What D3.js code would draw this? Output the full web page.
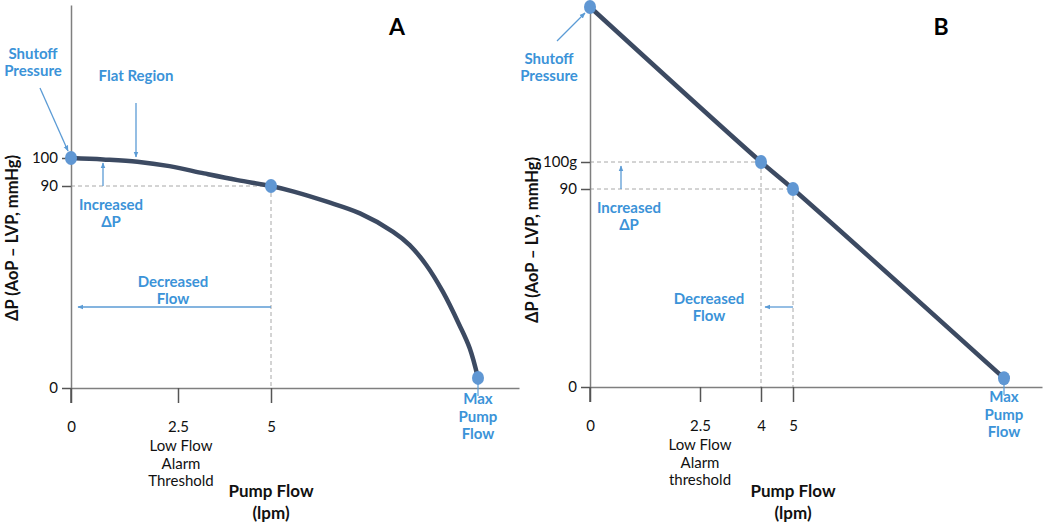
<!DOCTYPE html>
<html>
<head>
<meta charset="utf-8">
<script src="https://cdn.jsdelivr.net/npm/d3@7"></script>
<style>
html,body{margin:0;padding:0;background:#fff;}
svg text{font-family:Lato,"Open Sans",sans-serif;}
</style>
</head>
<body>
<svg id="chart" width="1050" height="524"></svg>
<script>
// ---------- data ----------
const curveFlowA = [0, 0.75, 1.55, 2.3, 3.2, 4.1, 5, 5.55, 6.35, 7.15, 7.95, 8.35, 8.75, 9.15, 9.55, 9.8, 10];
const curveDpA   = [100, 99.5, 98.7, 97.1, 94.5, 92.1, 90, 87.5, 83.0, 77.8, 69.6, 63.7, 54.8, 42.9, 28.1, 17.7, 4.5];
const pointFlowA = [0, 5, 10];
const pointDpA   = [100, 90, 4.5];

const lineFlowB  = [0, 4, 5, 10];
const lineDpB    = [170, 100, 90, 4];
const pointFlowB = [0, 4, 5, 10];
const pointDpB   = [170, 100, 90, 4];

const xTicksA = [0, 2.5, 5];
const xTickLabelsA = ["0", "2.5", "5"];
const xTicksB = [0, 2.5, 4, 5];
const xTickLabelsB = ["0", "2.5", "4", "5"];
const yTicks = [0, 90, 100];
const yTickLabelsA = ["0", "90", "100"];
const yTickLabelsB = ["0", "90", "100g"];

// ---------- style ----------
const curveColor = "#3c4a62";
const dotColor = "#6097d3";
const annoColor = "#3b93d8";
const arrowColor = "#5b9bd5";
const axisColor = "#7f7f7f";
const dashColor = "#a8a8a8";

const svg = d3.select("#chart");
const defs = svg.append("defs");
defs.append("marker").attr("id","arr").attr("viewBox","0 0 10 10")
  .attr("refX",9).attr("refY",5).attr("markerWidth",6).attr("markerHeight",6)
  .attr("orient","auto-start-reverse").attr("markerUnits","userSpaceOnUse")
  .append("path").attr("d","M0,1 L10,5 L0,9 z").attr("fill",arrowColor);

function panel(cfg){
  const g = svg.append("g");
  const x = d3.scaleLinear().domain(cfg.xDomain).range(cfg.xRange);
  const y = d3.scaleLinear().domain([0, 90, 100, 170]).range(cfg.yRange);

  // dashed guide lines
  cfg.guides.forEach(([fx, dp]) => {
    g.append("line").attr("x1", x(0)).attr("x2", x(fx)).attr("y1", y(dp)).attr("y2", y(dp))
      .attr("stroke", dashColor).attr("stroke-width",1).attr("stroke-dasharray","4,3");
    g.append("line").attr("x1", x(fx)).attr("x2", x(fx)).attr("y1", y(dp)).attr("y2", y(0))
      .attr("stroke", dashColor).attr("stroke-width",1).attr("stroke-dasharray","4,3");
  });

  // axes
  const xAxis = d3.axisBottom(x).tickValues(cfg.xTicks)
    .tickFormat((d,i)=>cfg.xTickLabels[i]).tickSize(15).tickSizeOuter(0);
  const gx = g.append("g").attr("transform",`translate(0,${y(0)})`).call(xAxis);
  gx.select(".domain").attr("stroke",axisColor).attr("stroke-width",1.5);
  gx.selectAll(".tick line").attr("stroke","#555").attr("stroke-width",1.5);
  gx.selectAll(".tick text").attr("font-size",15).attr("fill","#111").attr("dy",0).attr("y",cfg.tickLabelOffset)
    .style("font-family","Lato, sans-serif");

  const yAxis = d3.axisLeft(y).tickValues(yTicks)
    .tickFormat((d,i)=>cfg.yTickLabels[i]).tickSize(9).tickSizeOuter(0);
  const gy = g.append("g").attr("transform",`translate(${x(0)},0)`).call(yAxis);
  gy.select(".domain").attr("stroke",axisColor).attr("stroke-width",1.5);
  gy.selectAll(".tick line").attr("stroke","#555").attr("stroke-width",1.5);
  gy.selectAll(".tick text").attr("font-size",15).attr("fill","#111").attr("x",-13)
    .style("font-family","Lato, sans-serif");
  // extend y axis line below through the 0 tick
  g.append("line").attr("x1",x(0)).attr("x2",x(0)).attr("y1",y(0)).attr("y2",y(0)+15)
    .attr("stroke","#555").attr("stroke-width",1.5);

  // curve
  const line = d3.line().x(d=>x(d[0])).y(d=>y(d[1])).curve(d3.curveCatmullRom.alpha(0.5));
  g.append("path").datum(cfg.curveX.map((v,i)=>[v, cfg.curveY[i]]))
    .attr("d", line).attr("fill","none").attr("stroke",curveColor).attr("stroke-width",4.5)
    .attr("stroke-linecap","round");

  // max-flow small blue tick
  const mi = cfg.pointX.length-1;
  g.append("line").attr("x1",x(cfg.pointX[mi])).attr("x2",x(cfg.pointX[mi]))
    .attr("y1",y(cfg.pointY[mi])).attr("y2",y(0)+8).attr("stroke",arrowColor).attr("stroke-width",1.2);

  // dots
  g.selectAll("ellipse.pt").data(cfg.pointX.map((v,i)=>[v,cfg.pointY[i]])).enter()
    .append("ellipse").attr("cx",d=>x(d[0])).attr("cy",d=>y(d[1]))
    .attr("rx",6).attr("ry",7).attr("fill",dotColor);

  // axis titles
  g.append("text").attr("transform",`translate(${cfg.yLabelX},${cfg.yLabelY}) rotate(-90)`)
    .attr("text-anchor","middle").attr("font-size",16.5).attr("font-weight","bold").attr("fill","#111")
    .text("ΔP (AoP – LVP, mmHg)");
  const pf = g.append("text").attr("text-anchor","middle").attr("font-size",17)
    .attr("font-weight","bold").attr("fill","#111");
  pf.append("tspan").attr("x",x(5)).attr("y",497).text("Pump Flow");
  pf.append("tspan").attr("x",x(5)).attr("y",519).text("(lpm)");

  // low flow label
  const lf = g.append("text").attr("text-anchor","middle").attr("font-size",15).attr("fill","#111");
  cfg.lowFlow.forEach((t,i)=>lf.append("tspan").attr("x",x(2.5)+cfg.lowFlowDx).attr("y",cfg.lowFlowY+i*17.5).text(t));

  // panel letter
  g.append("text").attr("x",cfg.letterX).attr("y",35).attr("text-anchor","middle")
    .attr("font-size",23).attr("font-weight","bold").attr("fill","#000").text(cfg.letter);

  // annotations
  function multi(lines, cx, cy, lh){
    const t = g.append("text").attr("text-anchor","middle").attr("font-size",15)
      .attr("font-weight","bold").attr("fill",annoColor);
    lines.forEach((s,i)=>t.append("tspan").attr("x",cx).attr("y",cy+i*lh).text(s));
  }
  function arrow(x1,y1,x2,y2){
    g.append("line").attr("x1",x1).attr("y1",y1).attr("x2",x2).attr("y2",y2)
      .attr("stroke",arrowColor).attr("stroke-width",1.3).attr("marker-end","url(#arr)");
  }
  cfg.annos(multi, arrow, x, y);
  return {x,y};
}

// Panel A
panel({
  letter:"A", letterX:397,
  xDomain:[0,2.5,5,10,11], xRange:[71,178,271,478,519],
  yRange:[388,186,158,5],
  xTicks:xTicksA, xTickLabels:xTickLabelsA, yTickLabels:yTickLabelsA,
  curveX:curveFlowA, curveY:curveDpA, pointX:pointFlowA, pointY:pointDpA,
  guides:[[5,90]],
  tickLabelOffset:44,
  yLabelX:18, yLabelY:238,
  lowFlow:["Low Flow","Alarm","Threshold"], lowFlowY:451, lowFlowDx:3,
  annos:(multi, arrow, x, y)=>{
    multi(["Shutoff","Pressure"], 33, 59, 17);
    arrow(40,88,68,151);
    multi(["Flat Region"], 136, 81, 17);
    arrow(136,103,136,157);
    arrow(103,186,103,163);
    multi(["Increased","ΔP"], 111, 210, 17);
    multi(["Decreased","Flow"], 173, 287, 17);
    arrow(271,307,78,307);
    multi(["Max","Pump","Flow"], 478, 404, 17.5);
  }
});

// Panel B
panel({
  letter:"B", letterX:941,
  xDomain:[0,2.5,4,5,10,11], xRange:[590,700,761,793,1004,1042],
  yRange:[387,189,162,7],
  xTicks:xTicksB, xTickLabels:xTickLabelsB, yTickLabels:yTickLabelsB,
  curveX:lineFlowB, curveY:lineDpB, pointX:pointFlowB, pointY:pointDpB,
  guides:[[4,100],[5,90]],
  tickLabelOffset:44,
  yLabelX:538, yLabelY:240,
  lowFlow:["Low Flow","Alarm","threshold"], lowFlowY:450, lowFlowDx:0,
  annos:(multi, arrow, x, y)=>{
    multi(["Shutoff","Pressure"], 549, 64, 17);
    arrow(557,41,585,13);
    arrow(621,189,621,166);
    multi(["Increased","ΔP"], 629, 213, 17);
    multi(["Decreased","Flow"], 709, 304, 17);
    arrow(793,307,765,307);
    multi(["Max","Pump","Flow"], 1004, 402, 17.5);
  }
});
</script>
</body>
</html>
